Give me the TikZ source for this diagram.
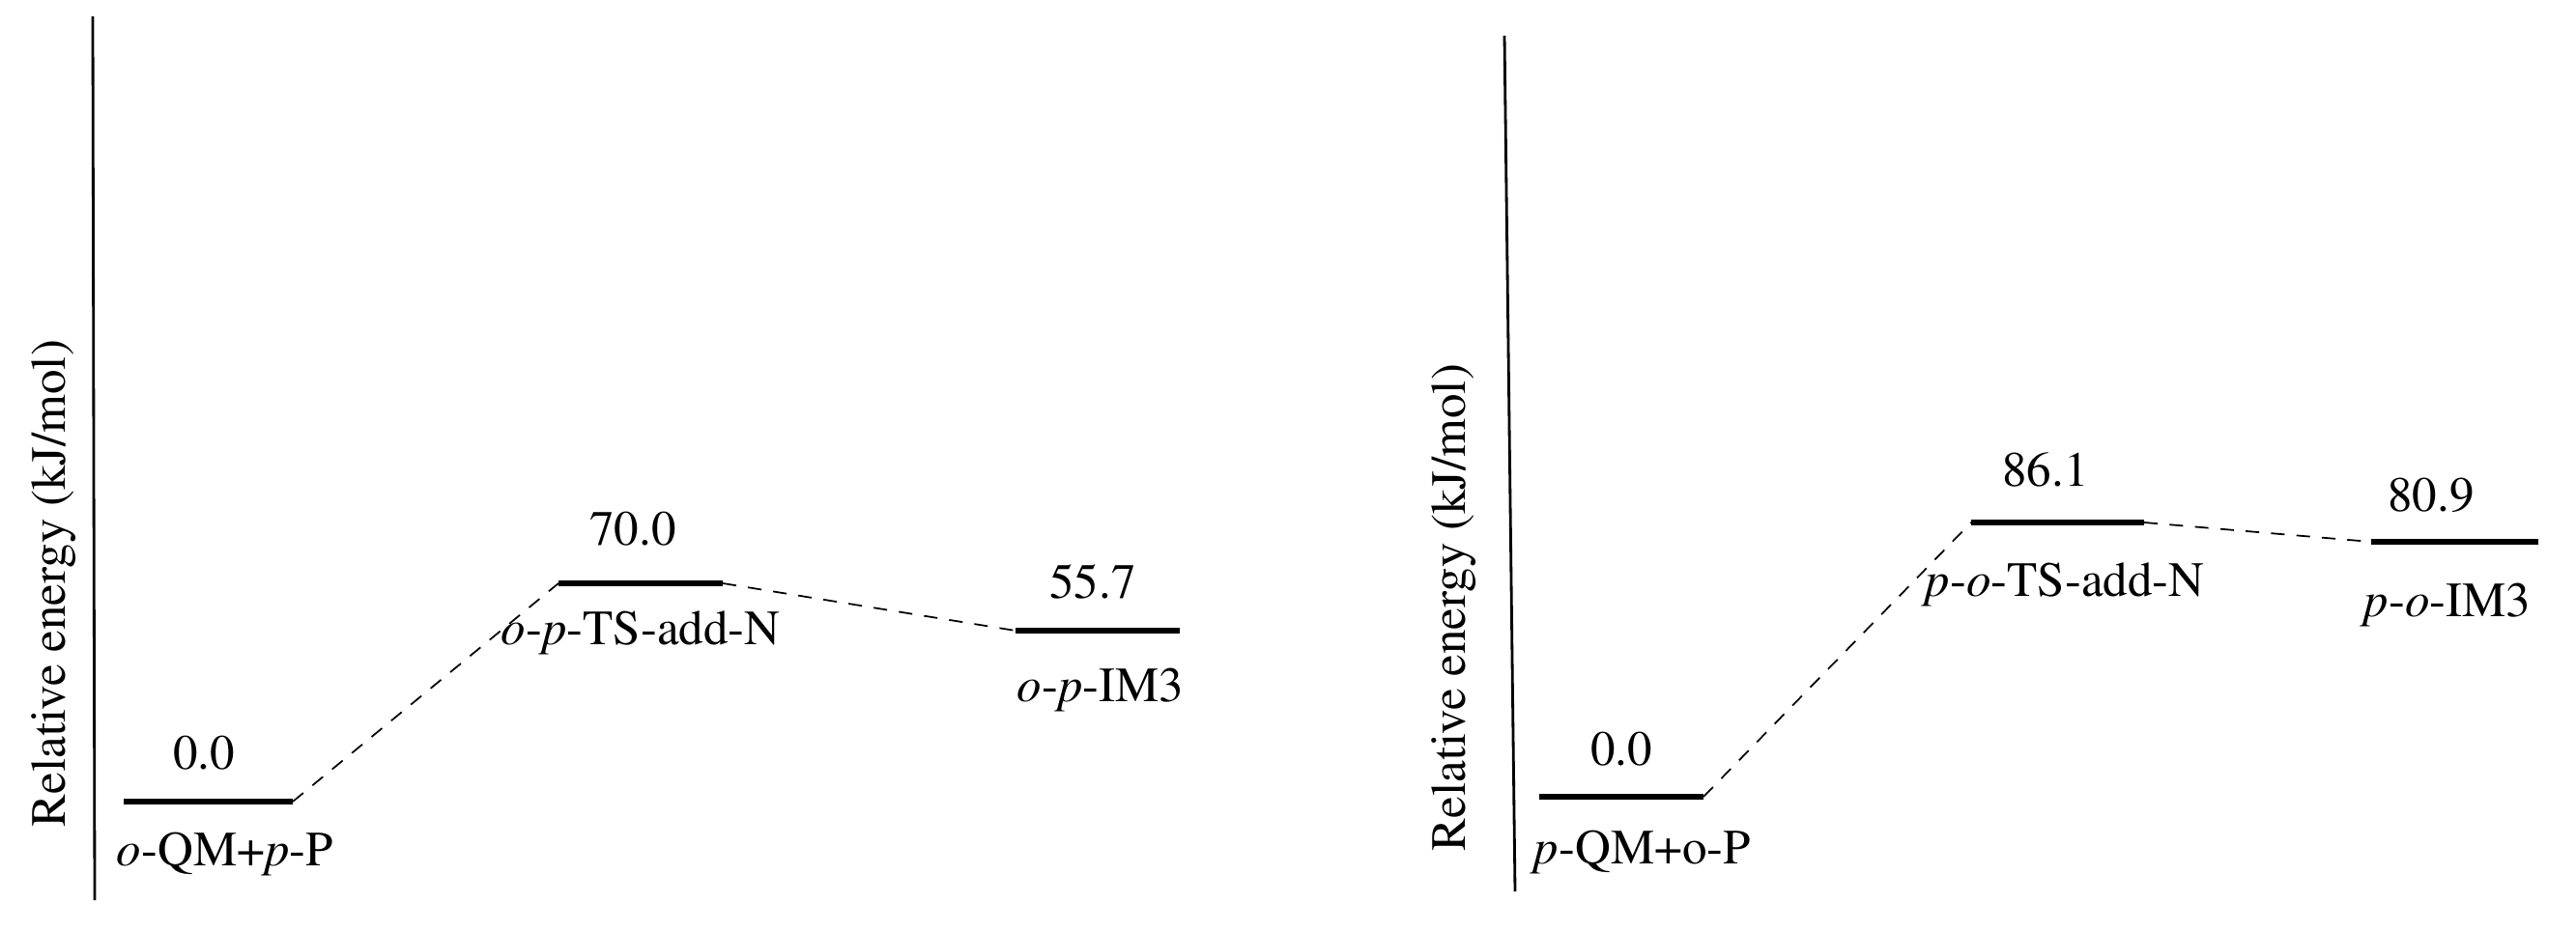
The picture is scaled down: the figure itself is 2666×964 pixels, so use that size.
\documentclass[tikz,border=0pt]{standalone}
\usepackage[T1]{fontenc}
\usepackage{mathptmx}
\usetikzlibrary{positioning}

\begin{document}
\begin{tikzpicture}[x=0.01cm,y=-0.01cm,
      txt/.style={inner sep=0pt,font=\rmfamily\fontsize{14.5}{17}\selectfont},
      level/.style={line width=1.8pt},
      link/.style={dashed,line width=0.5pt,dash pattern=on 4pt off 3.5pt},
      axis/.style={line width=0.8pt}]
      \useasboundingbox (0,0) rectangle (2666,964);
      % left panel: o-QM + p-P
      \coordinate (lax1) at (96,17);
      \coordinate (lax2) at (98,932);
      \draw[axis] (lax1)--(lax2);
      \node[txt,rotate=90] (lylab) at (56,604) {Relative energy (kJ/mol)};
      \coordinate (lr1) at (128,830);  \coordinate (lr2) at (303,830);
      \coordinate (lt1) at (578,604);  \coordinate (lt2) at (748,604);
      \coordinate (li1) at (1051,653); \coordinate (li2) at (1221,653);
      \draw[level] (lr1)--(lr2);
      \draw[level] (lt1)--(lt2);
      \draw[level] (li1)--(li2);
      \draw[link] (lr2)--(lt1);
      \draw[link] (lt2)--(li1);
      \node[txt] (lrv) at (211,779) {0.0};
      \node[txt] (lrn) at (233,884) {\textit{o}-QM+\textit{p}-P};
      \node[txt] (ltv) at (655,547) {70.0};
      \node[txt] (ltn) at (663,655) {\textit{o}-\textit{p}-TS-add-N};
      \node[txt] (liv) at (1131,602) {55.7};
      \node[txt] (lin) at (1139,714) {\textit{o}-\textit{p}-IM3};
      % right panel: p-QM + o-P
      \coordinate (rax1) at (1557,37);
      \coordinate (rax2) at (1568,923);
      \draw[axis] (rax1)--(rax2);
      \node[txt,rotate=90] (rylab) at (1505,629) {Relative energy (kJ/mol)};
      \coordinate (rr1) at (1593,825);  \coordinate (rr2) at (1763,825);
      \coordinate (rt1) at (2040,541);  \coordinate (rt2) at (2219,541);
      \coordinate (ri1) at (2454,561);  \coordinate (ri2) at (2627,561);
      \draw[level] (rr1)--(rr2);
      \draw[level] (rt1)--(rt2);
      \draw[level] (ri1)--(ri2);
      \draw[link] (rr2)--(rt1);
      \draw[link] (rt2)--(ri1);
      \node[txt] (rrv) at (1678,775) {0.0};
      \node[txt] (rrn) at (1700,882) {\textit{p}-QM+o-P};
      \node[txt] (rtv) at (2117,486) {86.1};
      \node[txt] (rtn) at (2137,605) {\textit{p}-\textit{o}-TS-add-N};
      \node[txt] (riv) at (2516,513) {80.9};
      \node[txt] (rin) at (2533,626) {\textit{p}-\textit{o}-IM3};
    \end{tikzpicture}
\end{document}
